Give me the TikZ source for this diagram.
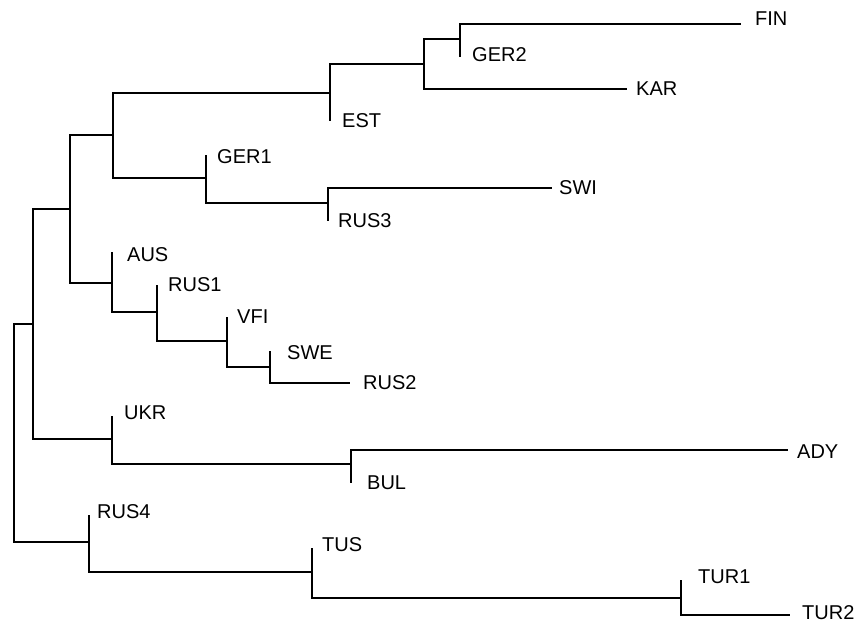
\documentclass[tikz,border=0pt]{standalone}
\usepackage{fontspec}
\setmainfont{Liberation Sans}
\usetikzlibrary{positioning}
\tikzset{
  branch/.style={line width=1.3pt,draw=black},
  taxon/.style={anchor=west,inner sep=0pt,font=\fontsize{20}{24}\selectfont}
}
\begin{document}
\begin{tikzpicture}[x=1pt,y=-1pt]
\useasboundingbox (0,0) rectangle (858,623);
% inner nodes of the tree
\coordinate (root) at (14,433);
\coordinate (A) at (33,324);
\coordinate (B) at (70,209);
\coordinate (C) at (113,135);
\coordinate (D) at (330,93);
\coordinate (E) at (424,64);
\coordinate (F) at (460,39);
\coordinate (G) at (206,178);
\coordinate (H) at (328,203);
\coordinate (I) at (112,283);
\coordinate (J) at (157,312);
\coordinate (K) at (227,341);
\coordinate (L) at (270,367);
\coordinate (M) at (112,439);
\coordinate (N) at (351,464);
\coordinate (O) at (89,542);
\coordinate (P) at (312,572);
\coordinate (Q) at (681,598);
% tips
\coordinate (tFIN) at (741,24);
\coordinate (tGER2) at (460,57);
\coordinate (tKAR) at (627,89);
\coordinate (tEST) at (330,121);
\coordinate (tGER1) at (206,155);
\coordinate (tSWI) at (552,188);
\coordinate (tRUS3) at (328,221);
\coordinate (tAUS) at (112,252);
\coordinate (tRUS1) at (157,285);
\coordinate (tVFI) at (227,317);
\coordinate (tSWE) at (270,351);
\coordinate (tRUS2) at (350,383);
\coordinate (tUKR) at (112,416);
\coordinate (tADY) at (788,450);
\coordinate (tBUL) at (351,483);
\coordinate (tRUS4) at (89,515);
\coordinate (tTUS) at (312,548);
\coordinate (tTUR1) at (681,580);
\coordinate (tTUR2) at (790,615);
% branches
\foreach \p/\c in {root/A,root/O,A/B,A/M,B/C,B/I,C/D,C/G,D/E,D/tEST,E/F,E/tKAR,
  F/tFIN,F/tGER2,G/tGER1,G/H,H/tSWI,H/tRUS3,I/tAUS,I/J,J/tRUS1,J/K,K/tVFI,K/L,
  L/tSWE,L/tRUS2,M/tUKR,M/N,N/tADY,N/tBUL,O/tRUS4,O/P,P/tTUS,P/Q,Q/tTUR1,Q/tTUR2}
  \draw[branch] (\p) |- (\c);
% labels
\node[taxon,right=14pt of tFIN,yshift=5pt] (FIN) {FIN};
\node[taxon,right=12pt of tGER2,yshift=2pt] (GER2) {GER2};
\node[taxon,right=9pt of tKAR] (KAR) {KAR};
\node[taxon,right=12pt of tEST] (EST) {EST};
\node[taxon,right=11pt of tGER1,yshift=-2pt] (GER1) {GER1};
\node[taxon,right=7pt of tSWI] (SWI) {SWI};
\node[taxon,right=10pt of tRUS3] (RUS3) {RUS3};
\node[taxon,right=15pt of tAUS,yshift=-3pt] (AUS) {AUS};
\node[taxon,right=11pt of tRUS1] (RUS1) {RUS1};
\node[taxon,right=10pt of tVFI] (VFI) {VFI};
\node[taxon,right=17pt of tSWE,yshift=-2pt] (SWE) {SWE};
\node[taxon,right=13pt of tRUS2] (RUS2) {RUS2};
\node[taxon,right=12pt of tUKR,yshift=3pt] (UKR) {UKR};
\node[taxon,right=9pt of tADY,yshift=-2pt] (ADY) {ADY};
\node[taxon,right=16pt of tBUL] (BUL) {BUL};
\node[taxon,right=8pt of tRUS4,yshift=3pt] (RUS4) {RUS4};
\node[taxon,right=10pt of tTUS,yshift=3pt] (TUS) {TUS};
\node[taxon,right=17pt of tTUR1,yshift=3pt] (TUR1) {TUR1};
\node[taxon,right=12pt of tTUR2,yshift=2pt] (TUR2) {TUR2};
\end{tikzpicture}
\end{document}
